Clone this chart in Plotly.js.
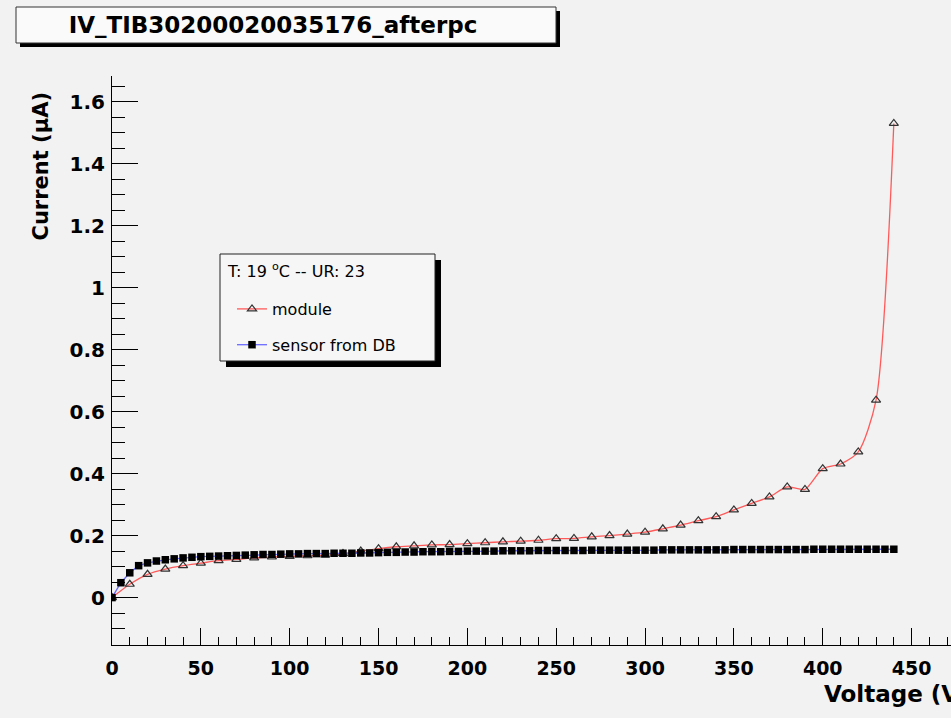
<!DOCTYPE html>
<html>
<head>
<meta charset="utf-8">
<script src="https://cdn.plot.ly/plotly-3.0.1.min.js"></script>
<style>
html,body{margin:0;padding:0;overflow:hidden;background:#f2f2f2;width:951px;height:718px}
#chart{width:1000px;height:718px}
</style>
</head>
<body>
<div id="chart"></div>
<script>
// ---- data ----
const chartTitle = "IV_TIB30200020035176_afterpc";
const legendTitle = "T: 19 <sup>o</sup>C -- UR: 23";
const moduleName = "module";
const sensorName = "sensor from DB";

const moduleVoltage = [0,10,20,30,40,50,60,70,80,90,100,110,120,130,140,150,160,170,180,190,200,210,220,230,240,250,260,270,280,290,300,310,320,330,340,350,360,370,380,390,400,410,420,430,440];
const moduleCurrent = [0,0.043,0.075,0.092,0.103,0.111,0.119,0.123,0.128,0.131,0.133,0.135,0.137,0.142,0.150,0.158,0.164,0.167,0.170,0.171,0.174,0.177,0.180,0.182,0.185,0.190,0.191,0.196,0.200,0.205,0.211,0.222,0.234,0.248,0.261,0.283,0.304,0.325,0.357,0.349,0.416,0.431,0.470,0.637,1.530];

const sensorVoltage = [0,5,10,15,20,25,30,35,40,45,50,55,60,65,70,75,80,85,90,95,100,105,110,115,120,125,130,135,140,145,150,155,160,165,170,175,180,185,190,195,200,205,210,215,220,225,230,235,240,245,250,255,260,265,270,275,280,285,290,295,300,305,310,315,320,325,330,335,340,345,350,355,360,365,370,375,380,385,390,395,400,405,410,415,420,425,430,435,440];
const sensorCurrent = [0,0.048,0.080,0.103,0.112,0.118,0.122,0.125,0.128,0.130,0.132,0.133,0.134,0.135,0.136,0.137,0.138,0.139,0.139,0.140,0.141,0.141,0.142,0.142,0.142,0.143,0.143,0.143,0.144,0.144,0.145,0.146,0.146,0.147,0.147,0.148,0.148,0.148,0.149,0.149,0.150,0.150,0.150,0.150,0.151,0.151,0.151,0.151,0.152,0.152,0.152,0.152,0.152,0.152,0.153,0.153,0.153,0.153,0.153,0.153,0.153,0.153,0.154,0.154,0.154,0.154,0.154,0.154,0.154,0.154,0.155,0.155,0.155,0.155,0.155,0.155,0.155,0.155,0.155,0.156,0.156,0.156,0.156,0.156,0.156,0.156,0.156,0.156,0.156];

const xTitle = "Voltage (V)";
const yTitle = "Current (\u03bcA)";

// ---- layout geometry (pixels) ----
const W = 1000, H = 718;
const M = {l:112, r:28, t:76, b:73};
const PW = W - M.l - M.r, PH = H - M.t - M.b;
const px = v => (v - M.l) / PW;
const py = v => (H - M.b - v) / PH;

const bold = {family:"DejaVu Sans", weight:700, color:"#000"};

const traces = [
  {
    x: moduleVoltage, y: moduleCurrent, name: moduleName, legendgroup: "m",
    type: "scatter", mode: "lines+markers",
    line: {color:"#ff5a5a", width:1.3, shape:"spline", smoothing:0.7},
    marker: {symbol:"triangle-up-open", size:8, color:"#333", line:{width:1.2, color:"#333"}}
  },
  {
    x: sensorVoltage, y: sensorCurrent, name: sensorName, legendgroup: "s",
    type: "scatter", mode: "lines+markers",
    line: {color:"#6b6bff", width:1.3},
    marker: {symbol:"square", size:7.5, color:"#000"}
  }
];

const layout = {
  width: W, height: H,
  margin: M,
  paper_bgcolor: "#f2f2f2",
  plot_bgcolor: "#f2f2f2",
  showlegend: true,
  title: {text: chartTitle, font: Object.assign({size:23}, bold), x: 273/W, xref:"container", xanchor:"center", y: 1 - 25/H, yanchor:"middle", yref:"container"},
  xaxis: {
    range: [0, 484], dtick: 50, tick0: 0,
    ticks: "inside", ticklen: 17, tickwidth: 1, tickcolor: "#000",
    minor: {dtick: 10, ticks: "inside", ticklen: 8.5, tickcolor: "#000", tickwidth: 1},
    showline: true, linecolor: "#000", linewidth: 1,
    showgrid: false, zeroline: false,
    tickfont: Object.assign({size:19}, bold),
    ticklabelstandoff: 6
  },
  yaxis: {
    range: [-0.153, 1.683], dtick: 0.2, tick0: 0,
    ticks: "inside", ticklen: 26, tickwidth: 1, tickcolor: "#000",
    minor: {dtick: 0.05, ticks: "inside", ticklen: 13, tickcolor: "#000", tickwidth: 1},
    showline: true, linecolor: "#000", linewidth: 1,
    showgrid: false, zeroline: false,
    tickfont: Object.assign({size:20}, bold),
    ticklabelstandoff: 2
  },
  legend: {
    x: px(232), y: py(292), xanchor: "left", yanchor: "top",
    bgcolor: "rgba(0,0,0,0)", borderwidth: 0,
    font: {family:"DejaVu Sans", size:16, color:"#000"},
    traceorder: "grouped", tracegroupgap: 12
  },
  shapes: [
    {type:"rect", xref:"paper", yref:"paper", x0:px(20), x1:px(560), y0:py(11), y1:py(47), fillcolor:"#000", line:{width:0}, layer:"below"},
    {type:"rect", xref:"paper", yref:"paper", x0:px(16), x1:px(556), y0:py(7), y1:py(43), fillcolor:"#fafafa", line:{width:1, color:"#333"}, layer:"below"},
    {type:"rect", xref:"paper", yref:"paper", x0:px(226), x1:px(441), y0:py(260), y1:py(367), fillcolor:"#000", line:{width:0}, layer:"below"},
    {type:"rect", xref:"paper", yref:"paper", x0:px(220), x1:px(435), y0:py(254), y1:py(361), fillcolor:"#f6f6f6", line:{width:1, color:"#222"}, layer:"below"}
  ],
  annotations: [
    {text: legendTitle, xref:"paper", yref:"paper", x:px(225), y:py(270), xanchor:"left", yanchor:"middle", showarrow:false, font:{family:"DejaVu Sans", size:16, color:"#000"}},
    {text: xTitle, xref:"paper", yref:"paper", x:1, y:0, xanchor:"right", yanchor:"top", yshift:-34, showarrow:false, font: Object.assign({size:23}, bold)},
    {text: yTitle, xref:"paper", yref:"paper", x:0, y:1, xanchor:"right", yanchor:"top", xshift:-58, yshift:-14, textangle:-90, showarrow:false, font: Object.assign({size:21}, bold)}
  ]
};

Plotly.newPlot("chart", traces, layout, {staticPlot:true, displayModeBar:false});
</script>
</body>
</html>
